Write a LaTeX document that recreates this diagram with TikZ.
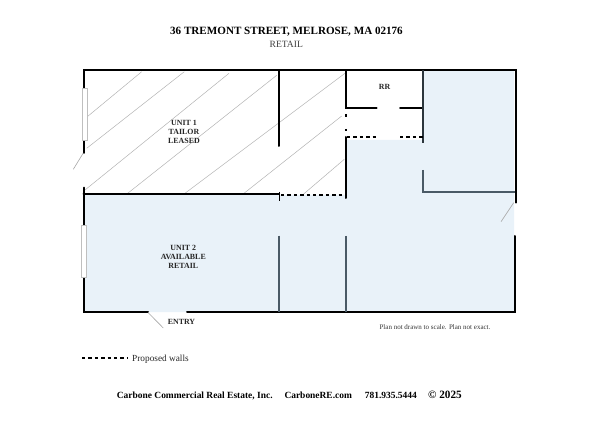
\documentclass[tikz,border=0pt]{standalone}
\usepackage{fontspec}
\setmainfont{Liberation Serif}
\definecolor{availblue}{HTML}{E9F2F9}
\definecolor{slatewall}{HTML}{4A5A66}
\NewDocumentCommand{\windowcell}{mmm}{%
\draw[draw=black!25, fill=white, line width=0.5pt] (#1,#2) rectangle ++(4.5,#3);%
}
\tikzset{
  wall/.style={line width=2pt, line cap=round},
  innerwall/.style={line width=1.7pt, draw=slatewall},
  propwall/.style={line width=1.5pt, dash pattern=on 3.4pt off 3pt},
  hatchline/.style={draw=black!30, line width=0.5pt},
  doorleaf/.style={draw=black!35, line width=0.6pt},
  roomlabel/.style={font=\bfseries\fontsize{7.9}{9}\selectfont, align=center, inner sep=0pt, text=black!85},
  footerlabel/.style={anchor=base west, font=\bfseries\fontsize{9.45}{11}\selectfont, inner sep=0pt},
}
\begin{document}
\begin{tikzpicture}[x=1pt, y=-1pt]
        \useasboundingbox (0,0) rectangle (600,422);

        % available area
        \fill[availblue] (84,195) -- (346,195) -- (346,140) -- (423,140) -- (423,71) -- (514,71) -- (514,312) -- (84,312) -- cycle;

        % hatching of unit 1
        \foreach \xa/\ya/\xb/\yb in {87.3/116.7/141.7/71.7, 86.7/148.3/184.3/71.7, 85/190/229/73.3, 127.7/193.3/276.7/75.3, 185/193.3/345/73.3, 244/193.3/341.7/116, 303.3/194.3/344.3/159.3}
          \draw[hatchline] (\xa,\ya) -- (\xb,\yb);

        % outer walls
        \draw[wall] (83.5,153) -- (83.5,70.3) -- (515.7,70.3) -- (515.7,202.7);
        \draw[wall] (515.3,236) -- (515.3,312.3) -- (187,312.3);
        \draw[wall] (148,312.3) -- (83.5,312.3) -- (83.5,187.7);

        % windows
        \windowcell{82.4}{88}{52}
        \windowcell{81.4}{225}{52}

        % doors
        \draw[doorleaf] (83.3,153) -- (73.3,169.3);
        \draw[doorleaf] (513.7,202.7) -- (501,221.7);
        \draw[doorleaf] (148,312.5) -- (163.3,328);

        % walls inside
        \draw[wall] (83.5,194.3) -- (279,194.3);
        \draw[wall] (279,70.3) -- (279,146);
        \draw[line width=1.5pt] (279.3,192) -- (279.3,201);
        \draw[wall] (346,70.3) -- (346,108.5) -- (376.7,108.5);
        \draw[wall] (400,108.5) -- (422.7,108.5);
        \draw[line width=1.5pt, draw=slatewall!60!black] (423,70.3) -- (423,142.7);
        \draw[line width=1.6pt] (346,114) -- (346,117);
        \draw[line width=1.6pt] (346,129) -- (346,131);
        \draw[wall] (345.7,137) -- (345.7,198);

        % existing partitions
        \draw[innerwall] (423,170) -- (423,192) -- (515,192);
        \draw[innerwall] (279.3,235.7) -- (279.3,312);
        \draw[innerwall] (346.3,236) -- (346.3,312);

        % proposed walls
        \draw[propwall] (281,195) -- (345,195);
        \draw[propwall] (347,137) -- (376.7,137);
        \draw[propwall] (400,137) -- (422.7,137);
        \draw[propwall] (82,358) -- (128,358);
        \node[anchor=west, inner sep=0pt, font=\fontsize{9.3}{11}\selectfont, text=black!85] (legend) at (132,359.3) {Proposed walls};

        % labels
        \node[font=\bfseries\fontsize{11.1}{13}\selectfont, inner sep=0pt] (title) at (286.5,32) {36 TREMONT STREET, MELROSE, MA 02176};
        \node[font=\fontsize{9.6}{11}\selectfont, inner sep=0pt, text=black!75] (subtitle) at (286.3,44) {RETAIL};
        \node[roomlabel] (unita) at (184,132.4) {UNIT 1\\TAILOR\\LEASED};
        \node[roomlabel] (unitb) at (183.3,257) {UNIT 2\\AVAILABLE\\RETAIL};
        \node[roomlabel] (rr) at (384.5,87) {RR};
        \node[roomlabel] (entry) at (181.5,322) {ENTRY};
        \node[font=\fontsize{7}{8}\selectfont, inner sep=0pt, text=black!80] (note) at (435,326.8) {Plan not drawn to scale. Plan not exact.};

        % footer
        \node[footerlabel] (firm) at (116.7,398.5) {Carbone Commercial Real Estate, Inc.};
        \node[footerlabel] (web) at (284.3,398.5) {CarboneRE.com};
        \node[footerlabel] (phone) at (364.7,398.5) {781.935.5444};
        \node[footerlabel, font=\bfseries\fontsize{11.2}{13}\selectfont] (year) at (428,398.5) {© 2025};
    \end{tikzpicture}
\end{document}
